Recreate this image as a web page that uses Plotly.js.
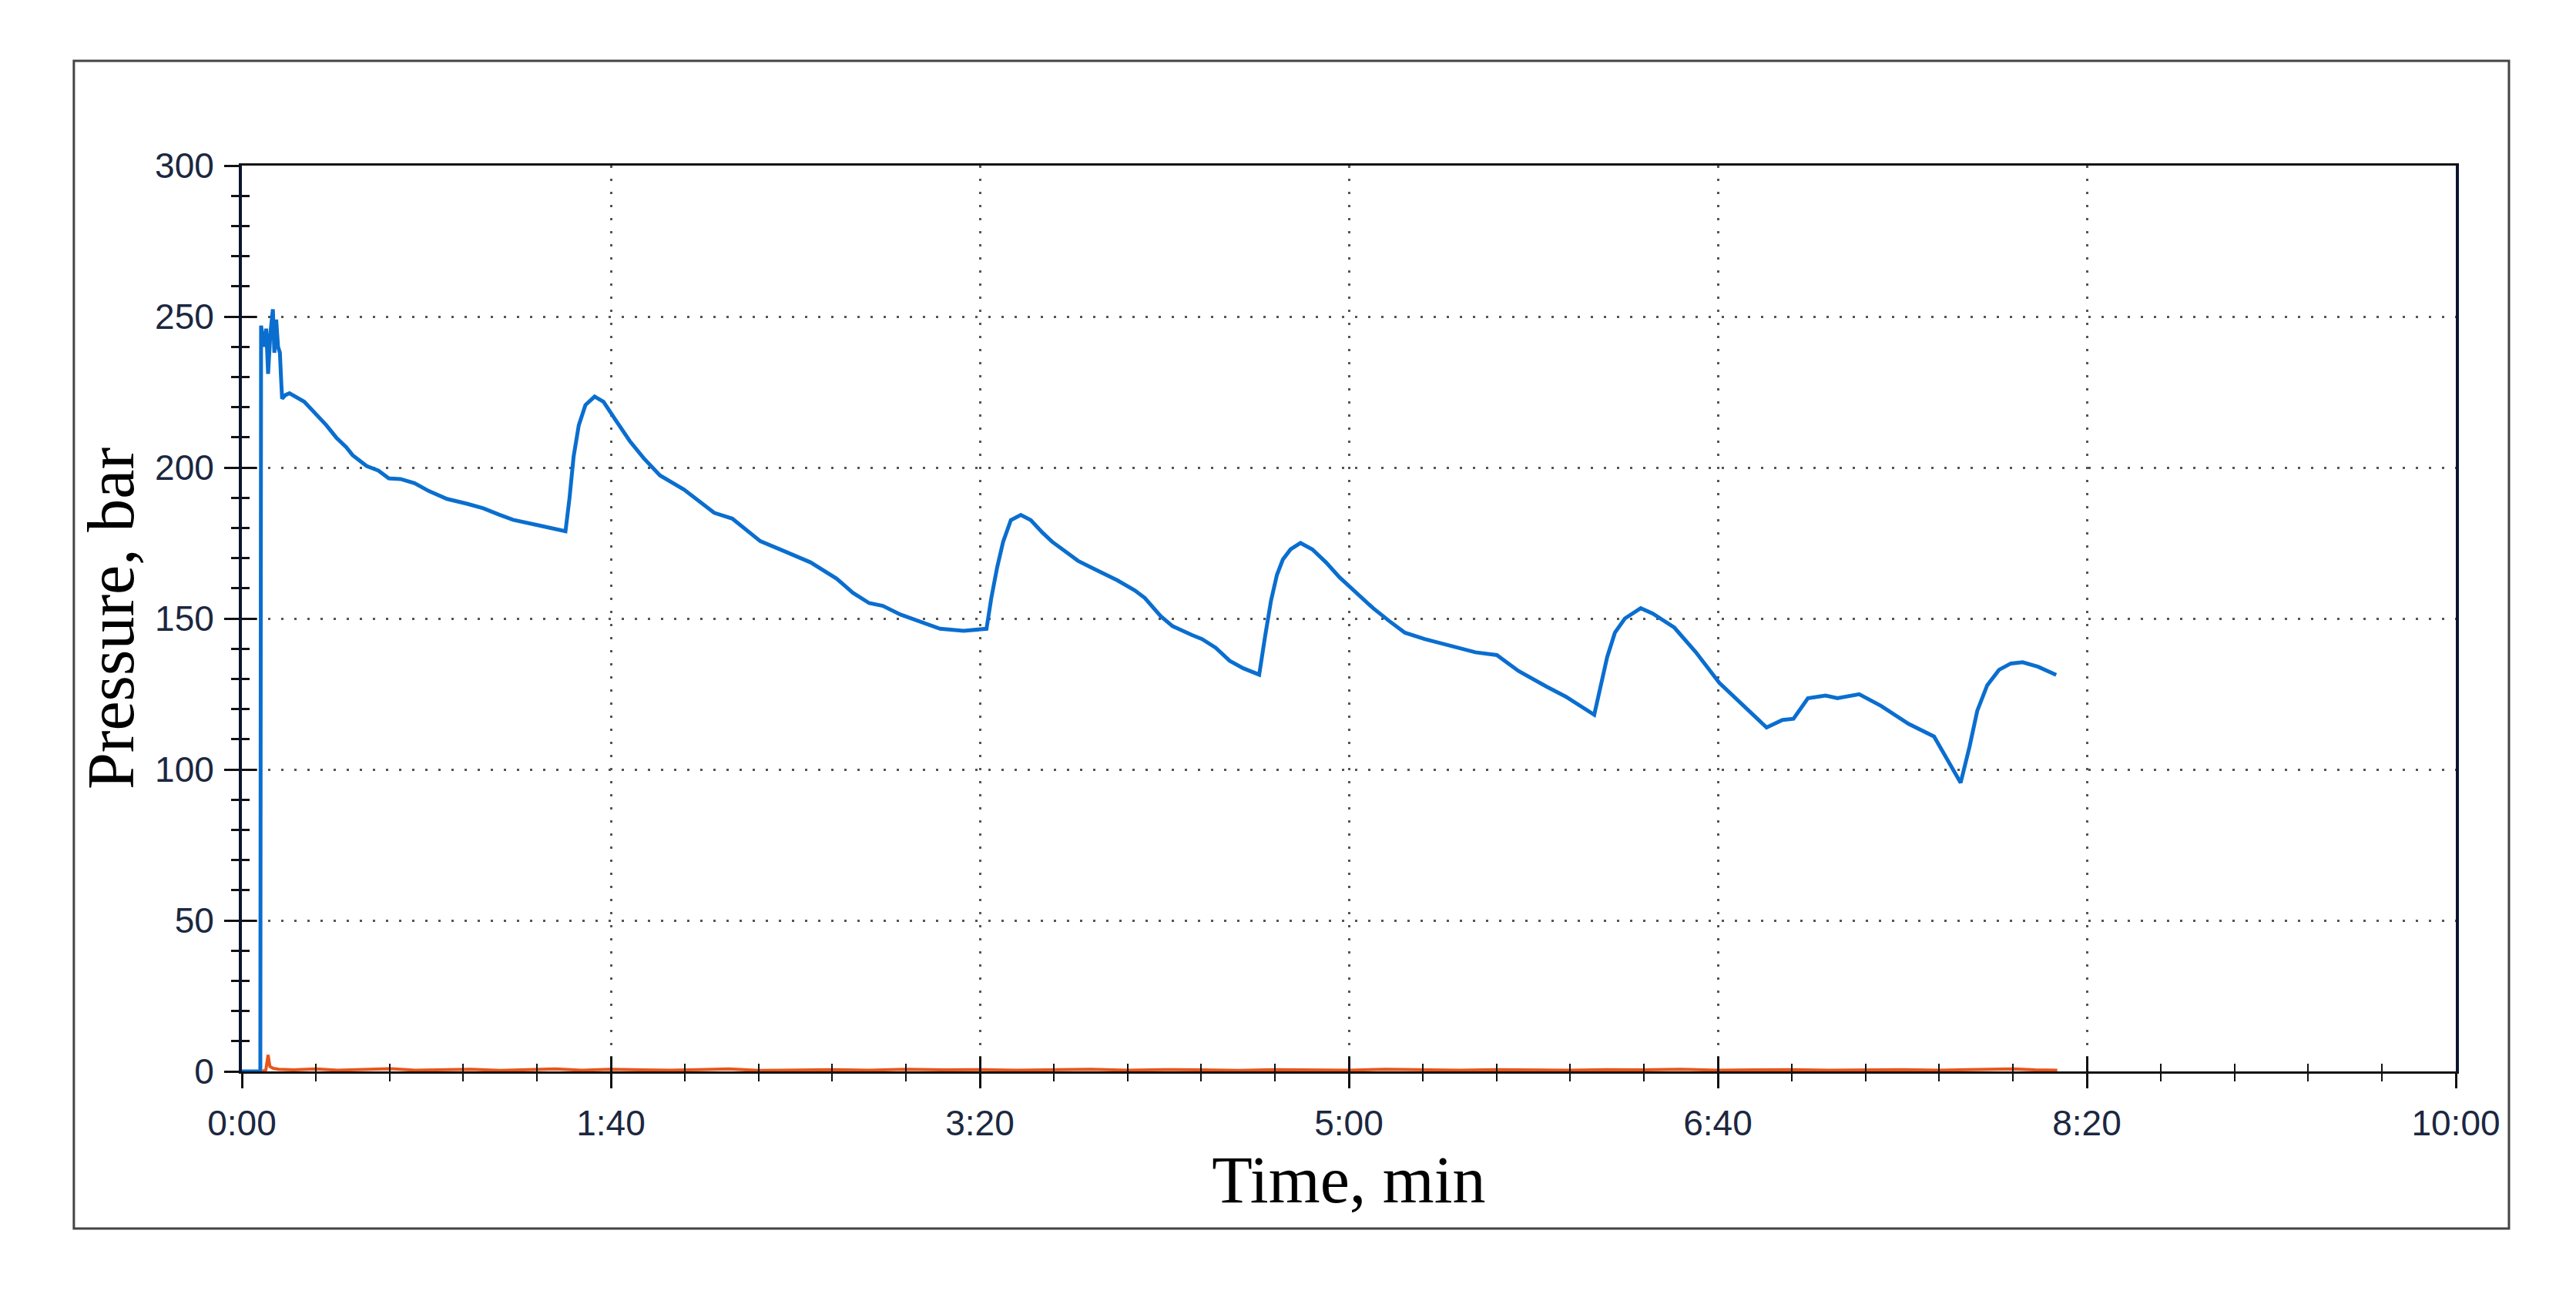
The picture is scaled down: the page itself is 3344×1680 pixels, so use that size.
<!DOCTYPE html>
<html>
<head>
<meta charset="utf-8">
<script src="https://cdn.plot.ly/plotly-3.0.1.min.js"></script>
<style>html,body{margin:0;padding:0;background:#fff;}#chart{width:3344px;height:1680px;}</style>
</head>
<body>
<div id="chart"></div>
<script>
// Time in seconds, pressure in bar (blue series: injection pressure)
const blueTime = [0, 5.0, 5.2, 6.0, 6.6, 7.1, 7.7, 8.4, 8.8, 9.3, 9.8, 10.3, 10.6, 10.9, 11.8, 12.9, 16.9, 22.9, 25.6, 28.3, 30.0, 33.8, 37.0, 39.8, 43.0, 46.8, 50.7, 55.6, 61.0, 65.4, 69.7, 73.5, 80.6, 86.1, 87.7, 88.8, 89.9, 91.3, 93.1, 95.6, 98.0, 100.8, 105.1, 108.9, 113.3, 119.8, 128.0, 132.9, 140.5, 147.0, 154.1, 161.2, 165.6, 170.0, 173.7, 178.5, 185.0, 189.2, 195.6, 201.8, 203.1, 204.7, 206.3, 208.4, 211.1, 213.8, 217.0, 219.6, 223.4, 226.6, 230.8, 237.2, 242.0, 244.7, 249.0, 252.2, 257.5, 260.2, 263.9, 267.7, 271.4, 275.7, 277.3, 278.9, 280.5, 282.1, 284.2, 286.9, 290.1, 293.8, 297.5, 301.3, 306.6, 310.9, 315.2, 320.5, 325.8, 331.0, 334.3, 340.1, 346.0, 353.5, 358.8, 366.5, 368.4, 370.0, 372.1, 374.8, 379.1, 382.3, 388.2, 394.0, 400.4, 406.8, 413.2, 417.5, 420.5, 424.4, 429.2, 432.4, 438.3, 444.2, 451.7, 458.6, 462.3, 465.8, 468.2, 470.3, 473.0, 476.2, 479.4, 482.6, 486.8, 491.7];
const bluePressure = [0, 0, 247, 240, 246, 231, 244, 252.4, 238, 249, 240, 238, 230, 222.8, 224, 224.6, 221.8, 214, 209.9, 206.7, 204.1, 200.5, 199, 196.4, 196.2, 194.8, 192.2, 189.6, 188, 186.5, 184.4, 182.7, 180.8, 179.3, 178.9, 190, 203.6, 214, 220.7, 223.5, 221.8, 216.6, 208.8, 203.1, 197.4, 192.7, 185, 183.1, 175.6, 172.3, 168.6, 163.2, 158.5, 155.1, 154.2, 151.3, 148.3, 146.6, 145.9, 146.6, 156.8, 167, 175.4, 182.6, 184.3, 182.6, 178.4, 175.4, 172, 169.1, 166.5, 162.7, 159.3, 156.8, 150.8, 147.5, 144.5, 143.2, 140.3, 136, 133.5, 131.4, 144.1, 155.9, 164.4, 169.5, 172.9, 175, 172.9, 168.6, 163.6, 159.3, 153.4, 149.2, 145.3, 143.2, 141.5, 139.8, 138.8, 137.9, 132.6, 127.5, 124.1, 118.1, 128.7, 137.2, 145.3, 150, 153.4, 151.7, 147, 138.9, 128.7, 121.5, 113.9, 116.4, 116.8, 123.6, 124.5, 123.6, 124.9, 121.1, 115.1, 110.9, 103.2, 95.6, 107.5, 119.4, 127.9, 133, 135.1, 135.5, 134, 131.3];

// Orange series: near-zero signal
const orangeTime = [5.5, 6.5, 7.1, 7.6, 8.5, 10, 14, 20, 26, 33, 40, 47, 55, 62, 70, 78, 85, 92, 100, 108, 116, 124, 132, 140, 150, 160, 170, 180, 190, 200, 210, 220, 230, 240, 250, 260, 270, 280, 290, 300, 310, 320, 330, 340, 350, 360, 370, 380, 390, 400, 410, 420, 430, 440, 450, 460, 470, 480, 486, 492];
const orangePressure = [0, 0.5, 5.5, 1.6, 1.0, 0.7, 0.5, 0.8, 0.4, 0.6, 0.9, 0.4, 0.5, 0.7, 0.3, 0.6, 0.8, 0.4, 0.7, 0.5, 0.4, 0.6, 0.8, 0.3, 0.5, 0.6, 0.4, 0.7, 0.5, 0.6, 0.4, 0.5, 0.7, 0.4, 0.6, 0.5, 0.3, 0.6, 0.5, 0.4, 0.7, 0.5, 0.4, 0.6, 0.5, 0.4, 0.6, 0.5, 0.7, 0.4, 0.5, 0.6, 0.4, 0.5, 0.6, 0.4, 0.5, 0.8, 0.5, 0.4];

const xTickVals = [0, 100, 200, 300, 400, 500, 600];
const xTickText = ['0:00', '1:40', '3:20', '5:00', '6:40', '8:20', '10:00'];
const yTickVals = [0, 50, 100, 150, 200, 250, 300];

const tickFont = {family: 'Liberation Sans, Arial, sans-serif', size: 46, color: '#1c2740'};
const titleFont = {family: 'Liberation Serif, Times New Roman, serif', size: 86, color: '#000'};
const gridDash = '3px,14px';

const traces = [
  {x: blueTime, y: bluePressure, type: 'scatter', mode: 'lines',
   line: {color: '#0a6ecf', width: 5}, xaxis: 'x', yaxis: 'y', hoverinfo: 'skip'},
  {x: orangeTime, y: orangePressure, type: 'scatter', mode: 'lines',
   line: {color: '#e8561b', width: 4}, xaxis: 'x2', yaxis: 'y2', hoverinfo: 'skip'}
];

const layout = {
  width: 3344, height: 1680,
  paper_bgcolor: '#fff', plot_bgcolor: '#fff',
  showlegend: false,
  margin: {l: 314, r: 156, t: 215, b: 289, pad: 0},
  xaxis: {
    range: [0, 600], tickmode: 'array', tickvals: xTickVals, ticktext: xTickText,
    ticks: 'outside', ticklen: 19, tickwidth: 3, tickcolor: '#111',
    showline: true, linecolor: '#111', linewidth: 3, mirror: true,
    showgrid: true, gridcolor: '#555', gridwidth: 3, griddash: gridDash,
    zeroline: false, tickfont: tickFont, ticklabelstandoff: 6,
    minor: {tickmode: 'linear', tick0: 0, dtick: 20, ticks: 'outside', ticklen: 10, tickwidth: 2, tickcolor: '#111', showgrid: false},
    title: {text: 'Time, min', font: titleFont, standoff: 14}
  },
  yaxis: {
    range: [0, 300], tickmode: 'array', tickvals: yTickVals,
    ticks: 'outside', ticklen: 19, tickwidth: 3, tickcolor: '#111',
    showline: true, linecolor: '#0b1530', linewidth: 4, mirror: true,
    showgrid: true, gridcolor: '#555', gridwidth: 3, griddash: gridDash,
    zeroline: false, tickfont: tickFont, ticklabelstandoff: 4,
    minor: {tickmode: 'linear', tick0: 0, dtick: 10, ticks: 'outside', ticklen: 10, tickwidth: 3, tickcolor: '#111', showgrid: false},
    title: {text: 'Pressure, bar', font: titleFont, standoff: 0}
  },
  xaxis2: {
    overlaying: 'x', anchor: 'y2', side: 'bottom', range: [0, 600],
    tickmode: 'array', tickvals: xTickVals, ticks: 'inside', ticklen: 19, tickwidth: 3, tickcolor: '#111',
    showticklabels: false, showgrid: false, showline: false, zeroline: false,
    minor: {tickmode: 'linear', tick0: 0, dtick: 20, ticks: 'inside', ticklen: 10, tickwidth: 2, tickcolor: '#111', showgrid: false}
  },
  yaxis2: {
    overlaying: 'y', anchor: 'x2', side: 'left', range: [0, 300],
    tickmode: 'array', tickvals: yTickVals, ticks: 'inside', ticklen: 19, tickwidth: 3, tickcolor: '#111',
    showticklabels: false, showgrid: false, showline: false, zeroline: false,
    minor: {tickmode: 'linear', tick0: 0, dtick: 10, ticks: 'inside', ticklen: 10, tickwidth: 3, tickcolor: '#111', showgrid: false}
  },
  shapes: [
    {type: 'rect', xref: 'paper', yref: 'paper', x0: -0.0759, x1: 1.0240, y0: -0.1735, y1: 1.1156,
     line: {color: '#444', width: 3}, fillcolor: 'rgba(0,0,0,0)', layer: 'below'}
  ]
};

Plotly.newPlot('chart', traces, layout, {staticPlot: true, displayModeBar: false});
</script>
</body>
</html>
